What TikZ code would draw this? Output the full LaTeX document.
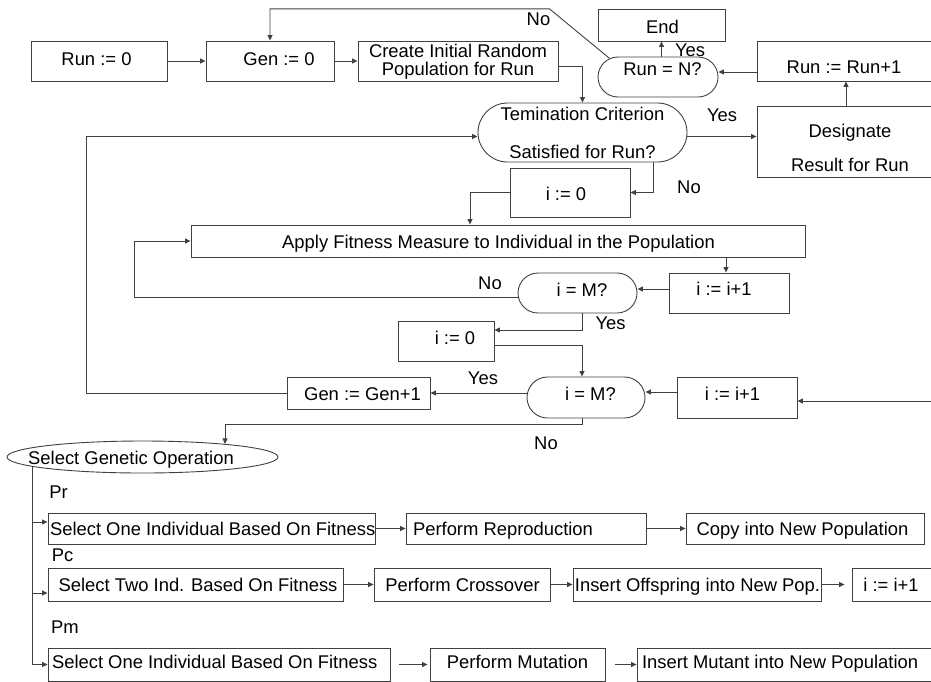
\documentclass[tikz,border=0pt]{standalone}
\usepackage{fontspec}
\setmainfont{Liberation Sans}
\usetikzlibrary{arrows.meta,shapes.misc,shapes.geometric}

% Text placement inside nodes: the node content has zero size and the text is
% placed relative to the node centre (x offset, cap-centre lift).
\newcommand\tx[3]{\makebox[0pt]{\hspace*{#1}\hspace*{#1}\raisebox{\dimexpr#2-6.6pt\relax}[0pt][0pt]{#3}}}
% left-aligned text starting #1 from the node centre
\newcommand\tlx[3]{\makebox[0pt][l]{\hspace*{#1}\raisebox{\dimexpr#2-6.6pt\relax}[0pt][0pt]{#3}}}
% multi-line centred text, first baseline raised by #1 above the centre
\newcommand\mlt[2]{\makebox[0pt]{\raisebox{#1}[0pt][0pt]{\begin{tabular}[t]{@{}c@{}}#2\end{tabular}}}}

\definecolor{lc}{HTML}{404040}

\begin{document}
\begin{tikzpicture}[x=1pt,y=-1pt,
  font=\fontsize{18.4pt}{17pt}\selectfont,
  box/.style={draw=lc, line width=0.9pt, inner sep=0pt, rectangle},
  stad/.style={draw=lc, line width=0.9pt, inner sep=0pt, rounded rectangle},
  oval/.style={draw=lc, line width=0.9pt, inner sep=0pt, ellipse},
  lab/.style={inner sep=0pt},
  arr/.style={draw=lc, line width=0.9pt, -{Triangle[length=5.5pt,width=5pt]}},
  ln/.style={draw=lc, line width=0.9pt}]

\useasboundingbox (0,0) rectangle (931,681);
\clip (0,0) rectangle (931,681);

% ---- run / generation set-up ----
\node[box, minimum width=136pt, minimum height=40pt] (run0) at (99,61) {\tx{-2.5pt}{2.5pt}{Run := 0}};
\node[box, minimum width=128pt, minimum height=40pt] (gen0) at (270,61) {\tx{9pt}{2.5pt}{Gen := 0}};
\node[box, minimum width=200pt, minimum height=40pt] (create) at (458,61) {\mlt{4pt}{Create Initial Random\\Population for Run}};
\node[box, minimum width=127pt, minimum height=32pt] (endb) at (661.5,25) {\tx{1pt}{-1.5pt}{End}};
\node[stad, minimum width=120pt, minimum height=40pt] (runN) at (658,77) {\tx{4.5pt}{8pt}{Run = N?}};
\node[box, minimum width=186pt, minimum height=40pt] (runinc) at (850,61) {\tx{-6pt}{-6pt}{Run := Run+1}};
\node[box, minimum width=186pt, minimum height=71pt] (designate) at (850,141.5) {\mlt{4.5pt}{Designate\\[16pt]Result for Run}};
\node[stad, minimum width=209pt, minimum height=59pt] (term) at (582.5,132.5) {\mlt{11.8pt}{Temination Criterion\\[19.6pt]Satisfied for Run?}};

% ---- fitness loop ----
\node[box, minimum width=120pt, minimum height=49pt] (izero1) at (570,192.5) {\tx{-4pt}{-1pt}{i := 0}};
\node[box, minimum width=614pt, minimum height=32pt] (apply) at (498,241) {\tx{0.5pt}{-1pt}{Apply Fitness Measure to Individual in the Population}};
\node[box, minimum width=120pt, minimum height=40pt] (iinc1) at (729,293) {\tx{-5pt}{3.7pt}{i := i+1}};
\node[stad, minimum width=119pt, minimum height=40pt] (iM1) at (577.5,293) {\tx{4.5pt}{3pt}{i = M?}};

% ---- genetic operation loop ----
\node[box, minimum width=96pt, minimum height=40pt] (izero2) at (446,341) {\tx{9pt}{3pt}{i := 0}};
\node[stad, minimum width=118pt, minimum height=41pt] (iM2) at (586,397.5) {\tx{4.5pt}{3.5pt}{i = M?}};
\node[box, minimum width=120pt, minimum height=41pt] (iinc2) at (737,397.5) {\tx{-4.5pt}{4pt}{i := i+1}};
\node[box, minimum width=143pt, minimum height=32pt] (geninc) at (358.5,393) {\tx{4pt}{-0.7pt}{Gen := Gen+1}};
\node[oval, minimum width=271pt, minimum height=32pt] (select) at (142.5,457) {\tx{-11.5pt}{-1.3pt}{Select Genetic Operation}};

% ---- reproduction row ----
\node[box, minimum width=327pt, minimum height=31pt] (sel1) at (211.5,528.5) {\tlx{-161.5pt}{0pt}{Select One Individual Based On Fitness}};
\node[box, minimum width=240pt, minimum height=31pt] (rep) at (526,528.5) {\tlx{-113pt}{0pt}{Perform Reproduction}};
\node[box, minimum width=238pt, minimum height=31pt] (copy) at (805,528.5) {\tx{-2.5pt}{0pt}{Copy into New Population}};

% ---- crossover row ----
\node[box, minimum width=295pt, minimum height=33pt] (sel2) at (195.5,584.5) {\tx{2.5pt}{-0.5pt}{Select Two Ind. Based On Fitness}};
\node[box, minimum width=176pt, minimum height=33pt] (cross) at (462,584.5) {\tx{0.5pt}{-0.5pt}{Perform Crossover}};
\node[box, minimum width=248pt, minimum height=33pt] (ins1) at (697,584.5) {\tx{0.5pt}{-0.5pt}{Insert Offspring into New Pop.}};
\node[box, minimum width=83pt, minimum height=33pt] (iinc3) at (893.5,584.5) {\tx{-2.5pt}{-0.5pt}{i := i+1}};

% ---- mutation row ----
\node[box, minimum width=342pt, minimum height=33pt] (sel3) at (219,664.5) {\tlx{-167pt}{2.5pt}{Select One Individual Based On Fitness}};
\node[box, minimum width=175pt, minimum height=33pt] (mut) at (517.5,664.5) {\tx{0pt}{2.5pt}{Perform Mutation}};
\node[box, minimum width=298pt, minimum height=33pt] (ins2) at (786,664.5) {\tlx{-144pt}{2.5pt}{Insert Mutant into New Population}};

% ---- branch labels ----
\node[lab] (lNo1) at (538.5,19) {\tx{0pt}{0pt}{No}};
\node[lab] (lYes1) at (690,50) {\tx{0pt}{0pt}{Yes}};
\node[lab] (lYes2) at (722,114.5) {\tx{0pt}{0pt}{Yes}};
\node[lab] (lNo2) at (689,186.5) {\tx{0pt}{0pt}{No}};
\node[lab] (lNo3) at (490,282.5) {\tx{0pt}{0pt}{No}};
\node[lab] (lYes3) at (610.5,322.5) {\tx{0pt}{0pt}{Yes}};
\node[lab] (lYes4) at (483,378) {\tx{0pt}{0pt}{Yes}};
\node[lab] (lNo4) at (546,442.5) {\tx{0pt}{0pt}{No}};
\node[lab] (lPr) at (58.5,492) {\tx{0pt}{0pt}{Pr}};
\node[lab] (lPc) at (62.5,555) {\tx{0pt}{0pt}{Pc}};
\node[lab] (lPm) at (65,627) {\tx{0pt}{0pt}{Pm}};

% ---- helper coordinates ----
\coordinate (a5) at ([yshift=-11pt]runinc.west);
\coordinate (a8) at ([yshift=-4pt]term.east);
\coordinate (tw) at ([yshift=-4pt]term.west);
\coordinate (a12) at ([xshift=-3pt]iinc1.north);
\coordinate (rin) at (940,401);
\coordinate (fork) at (32,467);
\coordinate (b1) at ([yshift=6.5pt]sel1.west);
\coordinate (b2) at ([yshift=-8.5pt]sel2.west);

% ---- connectors ----
\draw[arr] (run0.east) -- (gen0.west);
\draw[arr] (gen0.east) -- (create.west);
\draw[arr] (runN.159) -- ++(-60,-49.5) -| (gen0.north);
\draw[arr] (endb.south |- runN.north) -- (endb.south);
\draw[arr] (a5) -- (a5 -| runN.east);
\draw[arr] ([xshift=-4pt]designate.north) -- ([xshift=-4pt]runinc.south);
\draw[arr] ([yshift=-5pt]create.east) -| (term.north);
\draw[arr] (a8) -- (a8 -| designate.west);
\draw[arr] (geninc.west) -- ++(-200,0) |- (tw);
\draw[arr] ([xshift=70.5pt]term.south) |- (izero1.east);
\draw[arr] (izero1.west) -| ([xshift=-28pt]apply.north);
\draw[arr] (a12 |- apply.south) -- (a12);
\draw[arr] ([yshift=4pt]iinc1.west) -- ([yshift=4pt]iM1.east);
\draw[arr] ([yshift=-4pt]iM1.west) -- ++(-383,0) |- (apply.west);
\draw[arr] ([xshift=4.5pt]iM1.south) |- ([yshift=11pt]izero2.east);
\draw[arr] ([yshift=-4pt]izero2.east) -| ([xshift=-4pt]iM2.north);
\draw[arr] ([yshift=5.5pt]iinc2.west) -- ([yshift=5.5pt]iM2.east);
\draw[arr] (rin) -- (rin -| iinc2.east);
\draw[arr] (iM2.west |- geninc.east) -- (geninc.east);
\draw[arr] ([xshift=-4pt]iM2.south) -- ++(0,6) -| (select.9);

\draw[arr] (fork) |- (sel3.west);
\draw[arr] (b1 -| fork) -- (b1);
\draw[arr] (b2 -| fork) -- (b2);

\draw[arr] (sel1.east) -- (rep.west);
\draw[arr] (rep.east) -- (copy.west);
\draw[arr] (sel2.east) -- (cross.west);
\draw[arr] (cross.east) -- (ins1.west);
\draw[arr, shorten >=7pt] (ins1.east) -- (iinc3.west);
\draw[arr, shorten <=9pt, shorten >=2pt] (sel3.east) -- (mut.west);
\draw[arr, shorten <=10pt] (mut.east) -- (ins2.west);
\end{tikzpicture}
\end{document}
